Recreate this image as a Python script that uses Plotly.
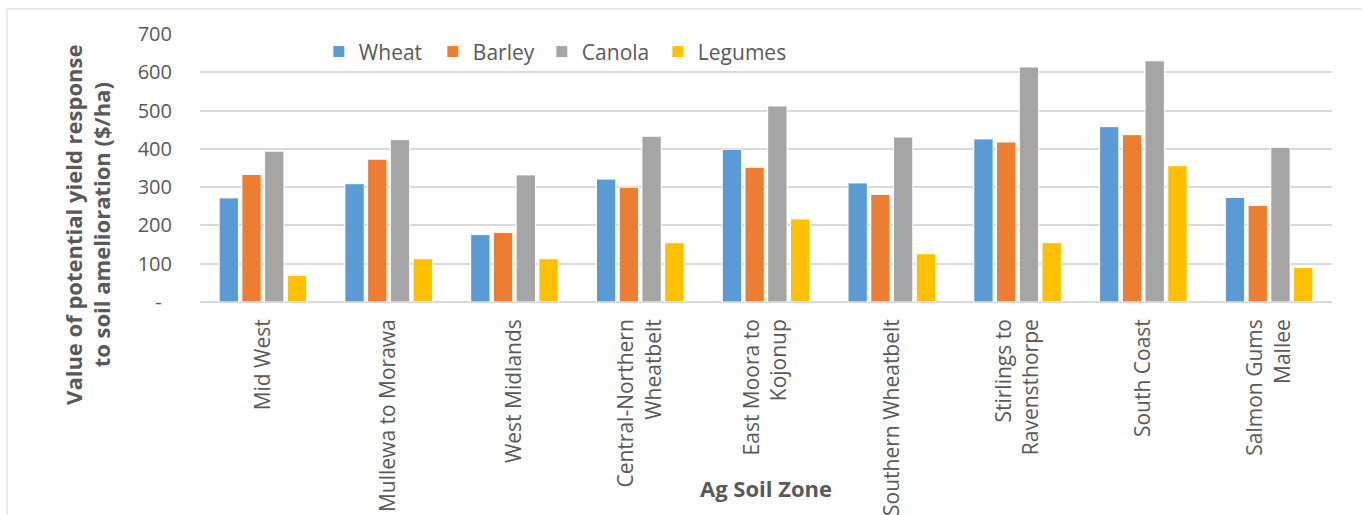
import plotly.graph_objects as go

# Agricultural soil zones (x categories)
zones = [
    "Mid West",
    "Mullewa to Morawa",
    "West Midlands",
    "Central-Northern<br>Wheatbelt",
    "East Moora to<br>Kojonup",
    "Southern Wheatbelt",
    "Stirlings to<br>Ravensthorpe",
    "South Coast",
    "Salmon Gums<br>Mallee",
]

# Value of potential yield response ($/ha) per crop
wheat = [272, 309, 176, 321, 399, 311, 426, 458, 273]
barley = [333, 373, 182, 300, 352, 281, 418, 437, 252]
canola = [394, 424, 332, 433, 512, 431, 614, 630, 404]
legumes = [69, 113, 113, 155, 217, 126, 155, 356, 90]

series_names = ["Wheat", "Barley", "Canola", "Legumes"]
series_values = [wheat, barley, canola, legumes]
series_colors = ["#5B9BD5", "#ED7D31", "#A5A5A5", "#FFC000"]
legend_widths = [69, 64, 71, 85]

y_tickvals = [0, 100, 200, 300, 400, 500, 600, 700]
y_ticktext = ["-\u00a0\u00a0", "100", "200", "300", "400", "500", "600", "700"]

FONT = "Open Sans"
TEXT = "#595959"
GRID = "#D9D9D9"

fig = go.Figure()
for name, vals, col, lw in zip(series_names, series_values, series_colors, legend_widths):
    fig.add_trace(go.Bar(
        name=name, x=zones, y=vals, legendwidth=lw,
        marker=dict(color=col, line=dict(color="white", width=1)),
    ))

fig.update_layout(
    width=1362, height=515,
    margin=dict(l=200, r=30, t=34, b=213),
    paper_bgcolor="white", plot_bgcolor="white",
    barmode="group", bargap=0.277, bargroupgap=0.15,
    font=dict(family=FONT, color=TEXT, size=21),
    showlegend=True,
    legend=dict(
        orientation="h", x=0.105, xanchor="left", y=0.933, yanchor="middle",
        font=dict(family=FONT, size=21, color=TEXT),
        bgcolor="rgba(0,0,0,0)", itemclick=False,
    ),
    xaxis=dict(
        tickangle=-90, tickfont=dict(family=FONT, size=21, color=TEXT),
        showline=False, showgrid=False, ticks="", ticklabelstandoff=12,
        automargin=False,
    ),
    yaxis=dict(
        range=[0, 700], tickvals=y_tickvals, ticktext=y_ticktext,
        tickfont=dict(family=FONT, size=20, color=TEXT),
        showgrid=True, gridcolor=GRID, gridwidth=2,
        zeroline=True, zerolinecolor=GRID, zerolinewidth=2,
        showline=False, ticks="", ticklabelstandoff=27,
        automargin=False,
    ),
)

# Axis titles
fig.add_annotation(
    text="<b>Value of potential yield response<br>to soil amelioration ($/ha)</b>",
    xref="paper", yref="paper", x=-0.1, y=0.287,
    xanchor="center", yanchor="middle", textangle=-90, showarrow=False,
    font=dict(family=FONT, size=22, color=TEXT),
)
fig.add_annotation(
    text="<b>Ag Soil Zone</b>",
    xref="paper", yref="paper", x=0.5, y=-0.695,
    xanchor="center", yanchor="middle", showarrow=False,
    font=dict(family=FONT, size=22, color=TEXT),
)

# Chart frame
fig.add_shape(
    type="rect", xref="paper", yref="paper",
    x0=-0.1705, x1=1.2, y0=-1.0, y1=1.0933,
    line=dict(color=GRID, width=1), fillcolor="rgba(0,0,0,0)", layer="below",
)

fig.write_html("out.html")
